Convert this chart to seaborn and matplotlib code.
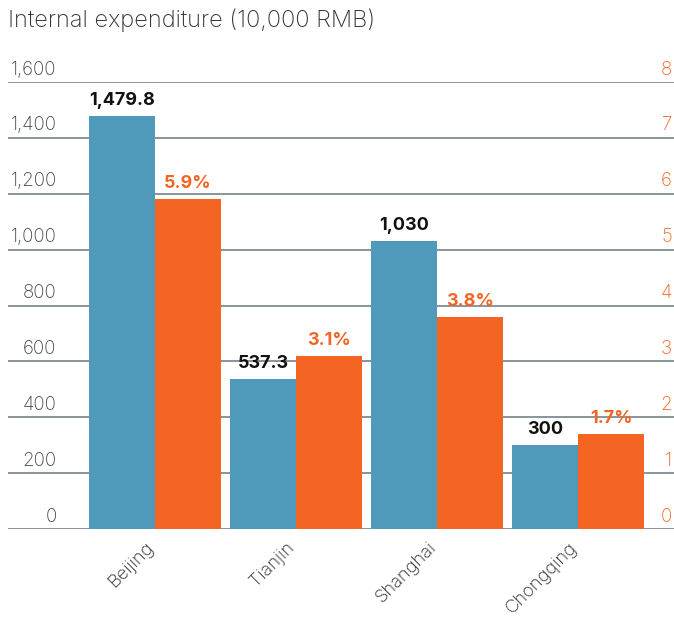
import matplotlib
matplotlib.use("Agg")
import matplotlib.pyplot as plt
import seaborn as sns
import pandas as pd
from matplotlib.transforms import ScaledTranslation

cities = ["Beijing", "Tianjin", "Shanghai", "Chongqing"]
expenditure = [1479.8, 537.3, 1030, 300]
share_pct = [5.9, 3.1, 3.8, 1.7]
exp_labels = ["1,479.8", "537.3", "1,030", "300"]
pct_labels = ["5.9%", "3.1%", "3.8%", "1.7%"]
left_ticks = [0, 200, 400, 600, 800, 1000, 1200, 1400, 1600]
left_ticklabels = ["0", "200", "400", "600", "800", "1,000", "1,200", "1,400", "1,600"]
right_ticks = [0, 1, 2, 3, 4, 5, 6, 7, 8]

BLUE = "#4f9aba"
ORANGE = "#f46524"
GRID = "#76818a"

sns.set_style("white")
plt.rcParams['font.family'] = ['Inter', 'DejaVu Sans']

df_exp = pd.DataFrame({"city": cities, "value": expenditure, "series": "exp"})
df_pct = pd.DataFrame({"city": cities, "value": share_pct, "series": "pct"})
hue_order = ["exp", "pct"]
pal = {"exp": BLUE, "pct": ORANGE}

fig = plt.figure(figsize=(6.74, 6.18), dpi=100)
ax = fig.add_axes([8/674, 1 - 529/618, 666/674, (529 - 82)/618])
ax2 = ax.twinx()

sns.barplot(data=df_exp, x="city", y="value", hue="series", hue_order=hue_order,
            palette=pal, width=0.936, dodge=True, ax=ax, legend=False,
            saturation=1, linewidth=0)
sns.barplot(data=df_pct, x="city", y="value", hue="series", hue_order=hue_order,
            palette=pal, width=0.936, dodge=True, ax=ax2, legend=False,
            saturation=1, linewidth=0)


def real_container(a):
    for c in a.containers:
        if len(c) and all(b is not None for b in c):
            return c


ax.set_ylim(0, 1600)
ax2.set_ylim(0, 8)
ax.set_xlim(-1.043, 3.68)
ax.set_xlabel("")
ax.set_ylabel("")
ax2.set_ylabel("")

for a in (ax, ax2):
    for s in a.spines.values():
        s.set_visible(False)

# gridlines drawn on the back axis
ax.set_zorder(ax2.get_zorder() - 1)
ax.patch.set_visible(False)
for t in left_ticks:
    ax.axhline(t, color=GRID, lw=1.9 if t == 0 else 1.2, zorder=0)
for p in ax.patches:
    p.set_zorder(2)

ax.set_yticks(left_ticks, left_ticklabels)
ax.tick_params(axis="y", length=0, pad=-35, labelsize=13.5, labelcolor="#444444")
up = ScaledTranslation(0, 2.5/72, fig.dpi_scale_trans)
for lab in ax.get_yticklabels():
    lab.set_va("bottom")
    lab.set_fontweight("light")
    lab.set_transform(lab.get_transform() + up)

ax2.set_yticks(right_ticks, [str(t) for t in right_ticks])
ax2.tick_params(axis="y", length=0, pad=-1.5, labelsize=13.5, labelcolor=ORANGE)
for lab in ax2.get_yticklabels():
    lab.set_va("bottom")
    lab.set_ha("right")
    lab.set_fontweight("light")
    lab.set_transform(lab.get_transform() + up)

ax.tick_params(axis="x", length=0, pad=7, labelsize=13.2, labelcolor="#2a2a2a")
left = ScaledTranslation(-7/72, 0, fig.dpi_scale_trans)
for lab in ax.get_xticklabels():
    lab.set_rotation(45)
    lab.set_ha("right")
    lab.set_rotation_mode("anchor")
    lab.set_fontweight("light")
    lab.set_transform(lab.get_transform() + left)

ax.bar_label(real_container(ax), labels=exp_labels, padding=5,
             fontsize=13, fontweight="bold", color="#111111")
ax2.bar_label(real_container(ax2), labels=pct_labels, padding=5,
              fontsize=13, fontweight="bold", color=ORANGE)

fig.text(8/674, 1 - 20/618, "Internal expenditure (10,000 RMB)", fontsize=17,
         color="#333333", va="center", ha="left", fontweight="light")

fig.savefig("out.png", dpi=100)
